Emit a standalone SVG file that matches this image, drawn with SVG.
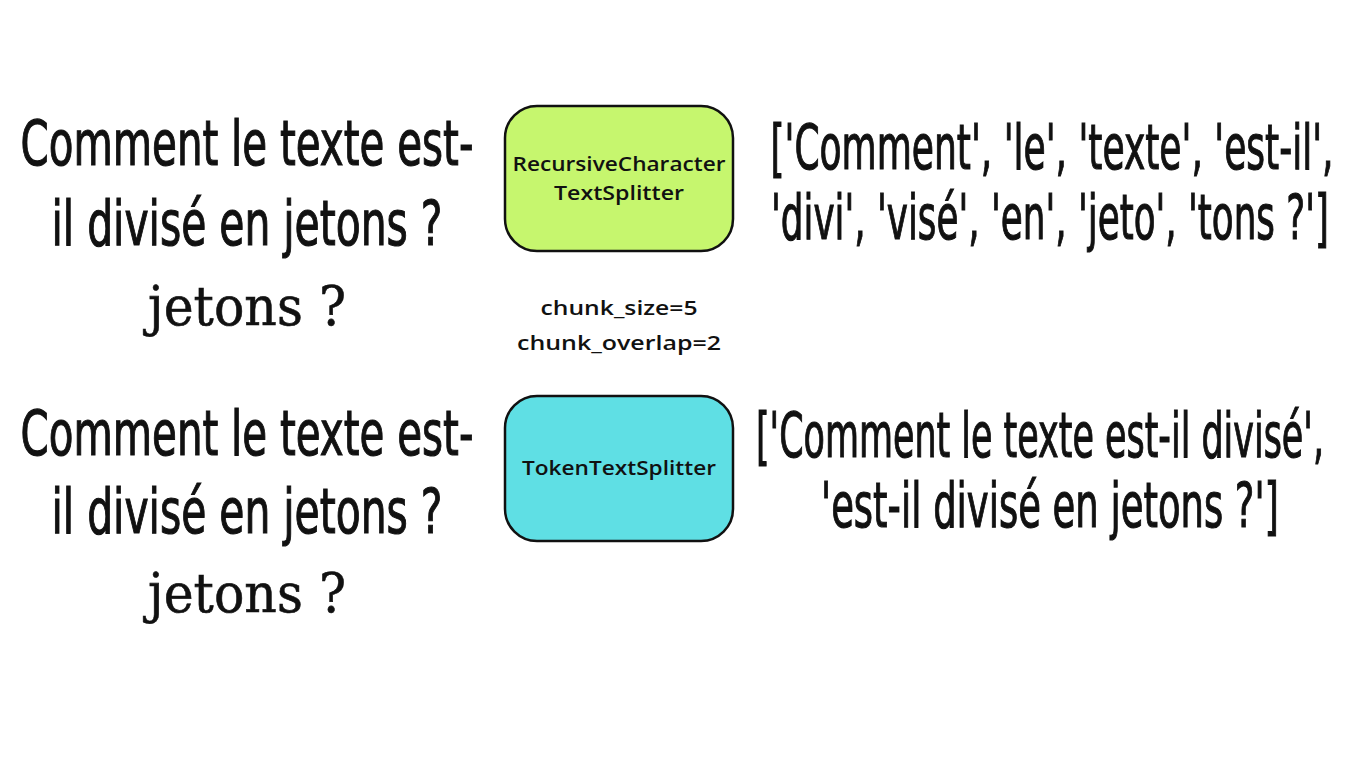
<svg xmlns="http://www.w3.org/2000/svg" width="1365" height="768" viewBox="0 0 1365 768">
<style>
.big{font-family:"Liberation Sans Narrow","DejaVu Sans Condensed","Liberation Sans",sans-serif;font-size:63px;fill:#111;stroke:#111;stroke-width:1.1;text-anchor:middle}
.ser{font-family:"DejaVu Serif","Liberation Serif",serif;font-size:54px;fill:#111;stroke:#111;stroke-width:0.6;text-anchor:middle}
.lbl{font-family:"Open Sans","Liberation Sans",sans-serif;font-size:20px;font-weight:600;fill:#111;text-anchor:middle}
.box{stroke:#111;stroke-width:2.5}
</style>
<rect width="1365" height="768" fill="#ffffff"/>
<g id="input1">
<text class="big" x="247" y="165" textLength="453" lengthAdjust="spacingAndGlyphs">Comment le texte est-</text>
<text class="big" x="247" y="245" textLength="391" lengthAdjust="spacingAndGlyphs">il divisé en jetons ?</text>
<text class="ser" x="247" y="325" textLength="198" lengthAdjust="spacingAndGlyphs">jetons ?</text>
</g>
<g id="recursive">
<rect class="box" x="505" y="106" width="228" height="145" rx="32" fill="#c6f66e"/>
<text class="lbl" x="619" y="171" textLength="213" lengthAdjust="spacingAndGlyphs">RecursiveCharacter</text>
<text class="lbl" x="619" y="200" textLength="130" lengthAdjust="spacingAndGlyphs">TextSplitter</text>
</g>
<g id="params">
<text class="lbl" x="619" y="315" textLength="157" lengthAdjust="spacingAndGlyphs">chunk_size=5</text>
<text class="lbl" x="619" y="350" textLength="204" lengthAdjust="spacingAndGlyphs">chunk_overlap=2</text>
</g>
<g id="output1">
<text class="big" x="1052" y="169" textLength="563" lengthAdjust="spacingAndGlyphs">['Comment', 'le', 'texte', 'est-il',</text>
<text class="big" x="1050" y="239" textLength="558" lengthAdjust="spacingAndGlyphs">'divi', 'visé', 'en', 'jeto', 'tons ?']</text>
</g>
<g id="input2">
<text class="big" x="247" y="455" textLength="453" lengthAdjust="spacingAndGlyphs">Comment le texte est-</text>
<text class="big" x="247" y="533" textLength="391" lengthAdjust="spacingAndGlyphs">il divisé en jetons ?</text>
<text class="ser" x="247" y="612" textLength="198" lengthAdjust="spacingAndGlyphs">jetons ?</text>
</g>
<g id="token">
<rect class="box" x="505" y="396" width="228" height="145" rx="32" fill="#5fdfe4"/>
<text class="lbl" x="619" y="475" textLength="194" lengthAdjust="spacingAndGlyphs">TokenTextSplitter</text>
</g>
<g id="output2">
<text class="big" x="1040" y="457" textLength="568" lengthAdjust="spacingAndGlyphs">['Comment le texte est-il divisé',</text>
<text class="big" x="1050" y="527" textLength="458" lengthAdjust="spacingAndGlyphs">'est-il divisé en jetons ?']</text>
</g>
<g id="connectors"></g>
</svg>
